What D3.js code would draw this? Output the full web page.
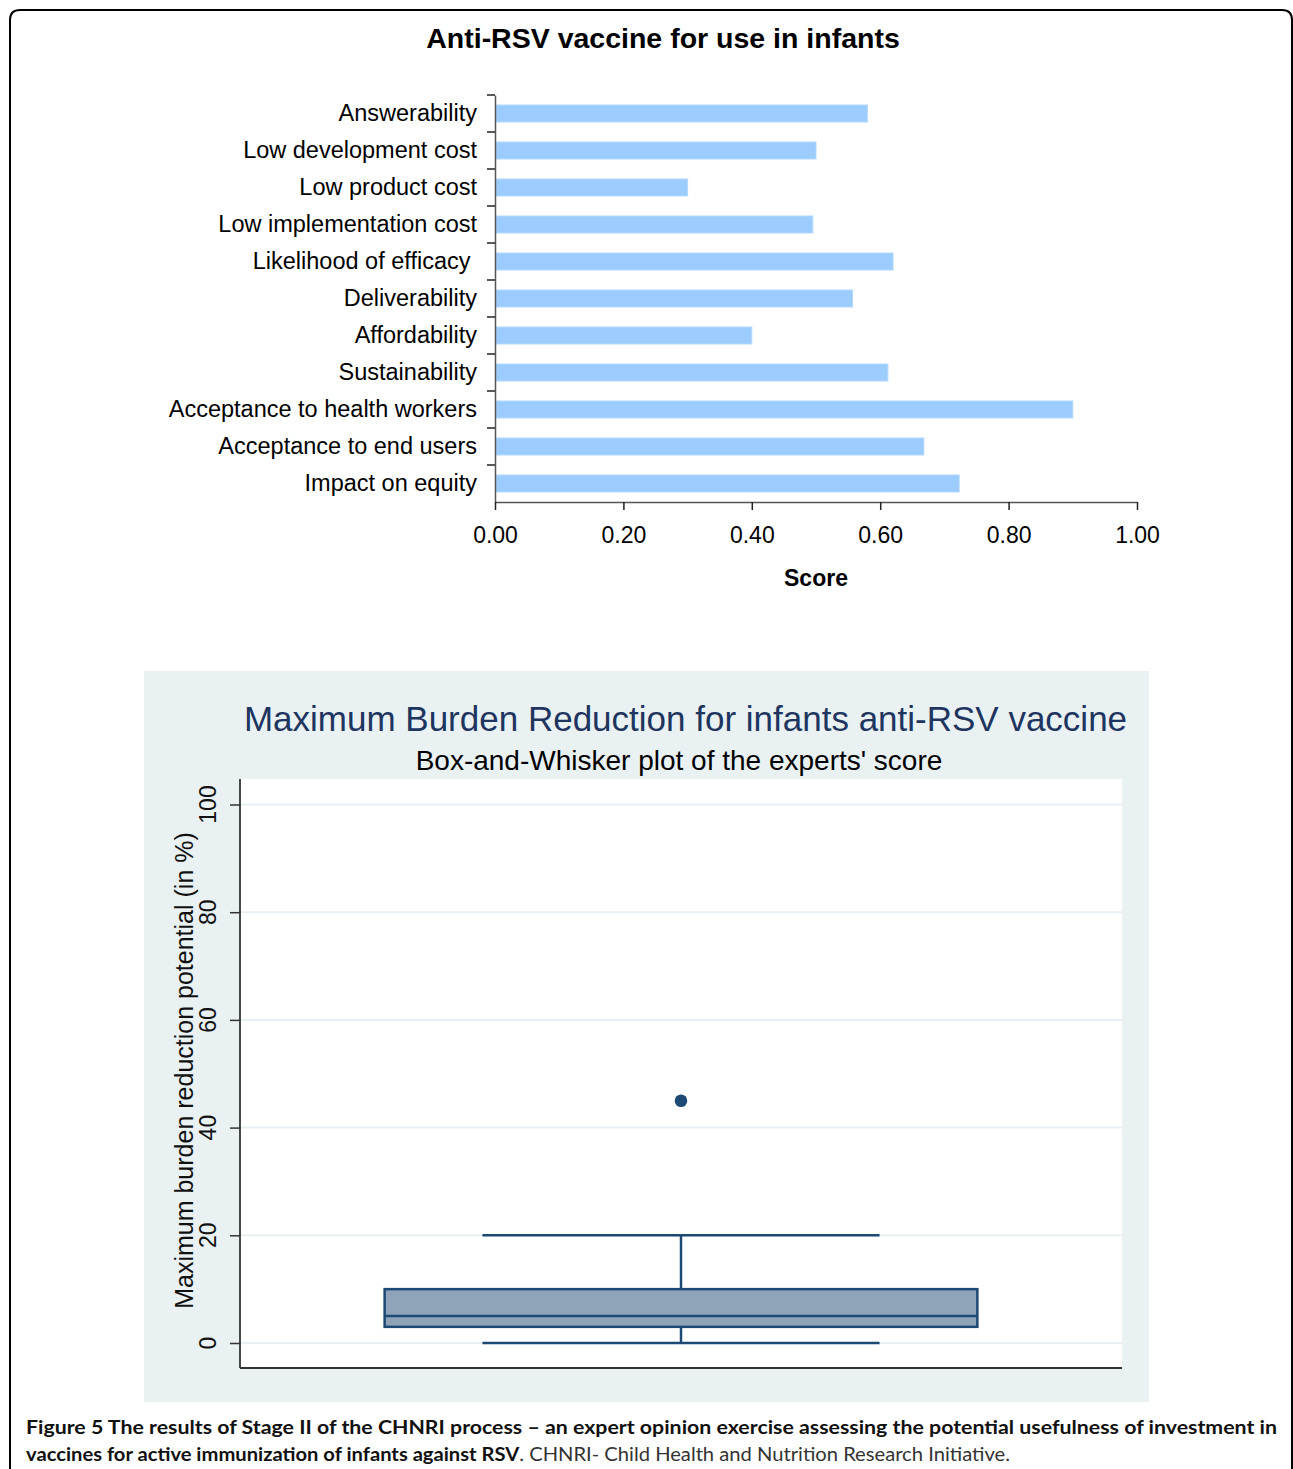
<!DOCTYPE html>
<html>
<head>
<meta charset="utf-8">
<script src="https://cdn.jsdelivr.net/npm/d3@7"></script>
<style>
  html, body { margin: 0; padding: 0; background: #fff; }
  svg { display: block; }
  text { font-family: "Liberation Sans", Arial, sans-serif; }
</style>
</head>
<body>
<div id="chart"></div>
<script>
// top chart data
var categories = [
  "Answerability",
  "Low development cost",
  "Low product cost",
  "Low implementation cost",
  "Likelihood of efficacy ",
  "Deliverability",
  "Affordability",
  "Sustainability",
  "Acceptance to health workers",
  "Acceptance to end users",
  "Impact on equity",
];
var scores = [0.58, 0.5, 0.3, 0.495, 0.62, 0.557, 0.4, 0.612, 0.9, 0.668, 0.723];
var scoreTicks = [0, 0.2, 0.4, 0.6, 0.8, 1.0];

// bottom chart data (box plot summary of experts' scores)
var boxGroup = ["infants anti-RSV vaccine"];
var boxStats = { min: 0, q1: 3, median: 5, q3: 10, max: 20 };
var outliers = [45];
var burdenTicks = [0, 20, 40, 60, 80, 100];

var width = 1293,
  height = 1469;

var svg = d3
  .select("#chart")
  .append("svg")
  .attr("width", width)
  .attr("height", height);

// 外枠（上だけ角丸）
svg
  .append("path")
  .attr("d", "M10,1469 L10,20 Q10,10 20,10 L1282,10 Q1292,10 1292,20 L1292,1469")
  .attr("fill", "none")
  .attr("stroke", "#000")
  .attr("stroke-width", 2);

// ---------- 上のグラフ ----------
svg
  .append("text")
  .text("Anti-RSV vaccine for use in infants")
  .attr("x", 663)
  .attr("y", 48)
  .attr("text-anchor", "middle")
  .attr("font-weight", "bold")
  .attr("font-size", 28.5)
  .attr("fill", "#000");

var xScale = d3.scaleLinear().domain([0, 1]).range([495, 1137]);

// 区切り用（padding無し）とバー用
var yCell = d3.scaleBand().domain(categories).range([95, 502]).padding(0);
var yBar = d3
  .scaleBand()
  .domain(categories)
  .range([95, 502])
  .paddingInner(0.54)
  .paddingOuter(0.27);

svg
  .append("g")
  .selectAll("rect")
  .data(categories)
  .enter()
  .append("rect")
  .attr("x", xScale(0) + 1)
  .attr("y", function (d) {
    return yBar(d);
  })
  .attr("width", function (d, i) {
    return xScale(scores[i]) - xScale(0) - 1;
  })
  .attr("height", yBar.bandwidth())
  .attr("fill", "#9ccbfd")
  .attr("stroke", "#b5d8fd")
  .attr("stroke-width", 1);

var yAxis = d3.axisLeft(yBar).tickSize(0).tickPadding(18).tickSizeOuter(0);
var gY = svg.append("g").attr("transform", "translate(" + xScale(0) + ",0)").call(yAxis);
gY.select(".domain").attr("stroke", "#555").attr("stroke-width", 1.5);
gY.selectAll("text")
  .attr("font-size", 23.5)
  .attr("fill", "#000")
  .style("white-space", "pre")
  .attr("font-family", "Liberation Sans, Arial, sans-serif");

// カテゴリ境界の目盛り
var boundaries = categories.map(function (c) {
  return yCell(c);
});
svg
  .append("g")
  .selectAll("line")
  .data(boundaries)
  .enter()
  .append("line")
  .attr("x1", xScale(0) - 8)
  .attr("x2", xScale(0))
  .attr("y1", function (d) {
    return d;
  })
  .attr("y2", function (d) {
    return d;
  })
  .attr("stroke", "#222")
  .attr("stroke-width", 1.5);

var xAxis = d3
  .axisBottom(xScale)
  .tickValues(scoreTicks)
  .tickFormat(d3.format(".2f"))
  .tickSizeInner(8)
  .tickSizeOuter(0)
  .tickPadding(17);
var gX = svg.append("g").attr("transform", "translate(0,502)").call(xAxis);
gX.select(".domain").attr("stroke", "#555").attr("stroke-width", 1.5);
gX.selectAll(".tick line").attr("stroke", "#222").attr("stroke-width", 1.5);
gX.selectAll("text")
  .attr("font-size", 23)
  .attr("fill", "#000")
  .attr("font-family", "Liberation Sans, Arial, sans-serif");

svg
  .append("text")
  .text("Score")
  .attr("x", 816)
  .attr("y", 586)
  .attr("text-anchor", "middle")
  .attr("font-weight", "bold")
  .attr("font-size", 23)
  .attr("fill", "#000");

// ---------- 下のグラフ（箱ひげ図） ----------
var panel = { left: 144, top: 671, right: 1149, bottom: 1402 };
var plot = { left: 240, top: 779, right: 1122, bottom: 1368 };

svg
  .append("rect")
  .attr("x", panel.left)
  .attr("y", panel.top)
  .attr("width", panel.right - panel.left)
  .attr("height", panel.bottom - panel.top)
  .attr("fill", "#e9f1f3");

svg
  .append("rect")
  .attr("x", plot.left)
  .attr("y", plot.top)
  .attr("width", plot.right - plot.left)
  .attr("height", plot.bottom - plot.top)
  .attr("fill", "#fff");

svg
  .append("text")
  .text("Maximum Burden Reduction for infants anti-RSV vaccine")
  .attr("x", 685.5)
  .attr("y", 731)
  .attr("text-anchor", "middle")
  .attr("font-size", 35)
  .attr("fill", "#1e3560");

svg
  .append("text")
  .text("Box-and-Whisker plot of the experts' score")
  .attr("x", 679)
  .attr("y", 770)
  .attr("text-anchor", "middle")
  .attr("font-size", 28)
  .attr("fill", "#000");

var yBox = d3.scaleLinear().domain([0, 100]).range([1343, 804.5]);
var xBox = d3
  .scaleBand()
  .domain(boxGroup)
  .range([plot.left, plot.right])
  .paddingOuter(0.244);

// グリッド線
svg
  .append("g")
  .selectAll("line")
  .data(burdenTicks)
  .enter()
  .append("line")
  .attr("x1", plot.left)
  .attr("x2", plot.right)
  .attr("y1", function (d) {
    return yBox(d);
  })
  .attr("y2", function (d) {
    return yBox(d);
  })
  .attr("stroke", "#e8f0f3")
  .attr("stroke-width", 2);

var boxG = svg.append("g").selectAll("g").data(boxGroup).enter().append("g");
var boxColor = "#1d4a75";

boxG.each(function (d) {
  var g = d3.select(this);
  var x0 = xBox(d),
    bw = xBox.bandwidth(),
    cx = x0 + bw / 2,
    capW = bw * 0.67;

  // ひげ
  g.append("line")
    .attr("x1", cx).attr("x2", cx)
    .attr("y1", yBox(boxStats.q3)).attr("y2", yBox(boxStats.max))
    .attr("stroke", boxColor).attr("stroke-width", 2.5);
  g.append("line")
    .attr("x1", cx).attr("x2", cx)
    .attr("y1", yBox(boxStats.q1)).attr("y2", yBox(boxStats.min))
    .attr("stroke", boxColor).attr("stroke-width", 2.5);
  [boxStats.min, boxStats.max].forEach(function (v) {
    g.append("line")
      .attr("x1", cx - capW / 2).attr("x2", cx + capW / 2)
      .attr("y1", yBox(v)).attr("y2", yBox(v))
      .attr("stroke", boxColor).attr("stroke-width", 2.5);
  });

  // 箱
  g.append("rect")
    .attr("x", x0)
    .attr("y", yBox(boxStats.q3))
    .attr("width", bw)
    .attr("height", yBox(boxStats.q1) - yBox(boxStats.q3))
    .attr("fill", "#8fa4b9")
    .attr("stroke", boxColor)
    .attr("stroke-width", 2.5);
  g.append("line")
    .attr("x1", x0).attr("x2", x0 + bw)
    .attr("y1", yBox(boxStats.median)).attr("y2", yBox(boxStats.median))
    .attr("stroke", boxColor).attr("stroke-width", 2.5);

  // 外れ値
  g.selectAll("circle")
    .data(outliers)
    .enter()
    .append("circle")
    .attr("cx", cx)
    .attr("cy", function (v) {
      return yBox(v);
    })
    .attr("r", 6.3)
    .attr("fill", boxColor);
});

// 軸
var boxAxis = d3.axisLeft(yBox).tickValues(burdenTicks).tickSize(10).tickFormat("");
var gBY = svg.append("g").attr("transform", "translate(" + plot.left + ",0)").call(boxAxis);
gBY.select(".domain").remove();
gBY.selectAll(".tick line").attr("stroke", "#333").attr("stroke-width", 1.5);

svg
  .append("line")
  .attr("x1", plot.left).attr("x2", plot.left)
  .attr("y1", plot.top).attr("y2", plot.bottom)
  .attr("stroke", "#333").attr("stroke-width", 1.8);
svg
  .append("line")
  .attr("x1", plot.left).attr("x2", plot.right)
  .attr("y1", plot.bottom).attr("y2", plot.bottom)
  .attr("stroke", "#333").attr("stroke-width", 1.8);

// 回転した目盛りラベル
svg
  .append("g")
  .selectAll("text")
  .data(burdenTicks)
  .enter()
  .append("text")
  .text(function (d) {
    return d;
  })
  .attr("x", 216)
  .attr("y", function (d) {
    return yBox(d);
  })
  .attr("transform", function (d) {
    return "rotate(-90," + 216 + "," + yBox(d) + ")";
  })
  .attr("text-anchor", "middle")
  .attr("font-size", 23)
  .attr("fill", "#111");

var titleY = (plot.top + plot.bottom) / 2 - 3;
svg
  .append("text")
  .text("Maximum burden reduction potential (in %)")
  .attr("x", 193)
  .attr("y", titleY)
  .attr("transform", "rotate(-90,193," + titleY + ")")
  .attr("text-anchor", "middle")
  .attr("font-size", 25)
  .attr("fill", "#111");

// ---------- キャプション ----------
var cap1 = svg
  .append("text")
  .attr("x", 26)
  .attr("y", 1434)
  .attr("font-size", 19.5)
  .attr("textLength", 1251)
  .attr("lengthAdjust", "spacingAndGlyphs")
  .style("font-family", "Lato, 'Open Sans', sans-serif")
  .attr("font-weight", "bold")
  .attr("fill", "#111");
cap1.append("tspan").text("Figure 5 ");
cap1
  .append("tspan")
  .text(
    "The results of Stage II of the CHNRI process \u2013 an expert opinion exercise assessing the potential usefulness of investment in"
  );

var cap2 = svg
  .append("text")
  .attr("x", 26)
  .attr("y", 1461)
  .attr("font-size", 19.5)
  .attr("textLength", 984)
  .attr("lengthAdjust", "spacingAndGlyphs")
  .style("font-family", "Lato, 'Open Sans', sans-serif")
  .attr("fill", "#111");
cap2
  .append("tspan")
  .attr("font-weight", "bold")
  .text("vaccines for active immunization of infants against RSV");
cap2
  .append("tspan")
  .attr("fill", "#333")
  .text(". CHNRI- Child Health and Nutrition Research Initiative.");
</script>
</body>
</html>
